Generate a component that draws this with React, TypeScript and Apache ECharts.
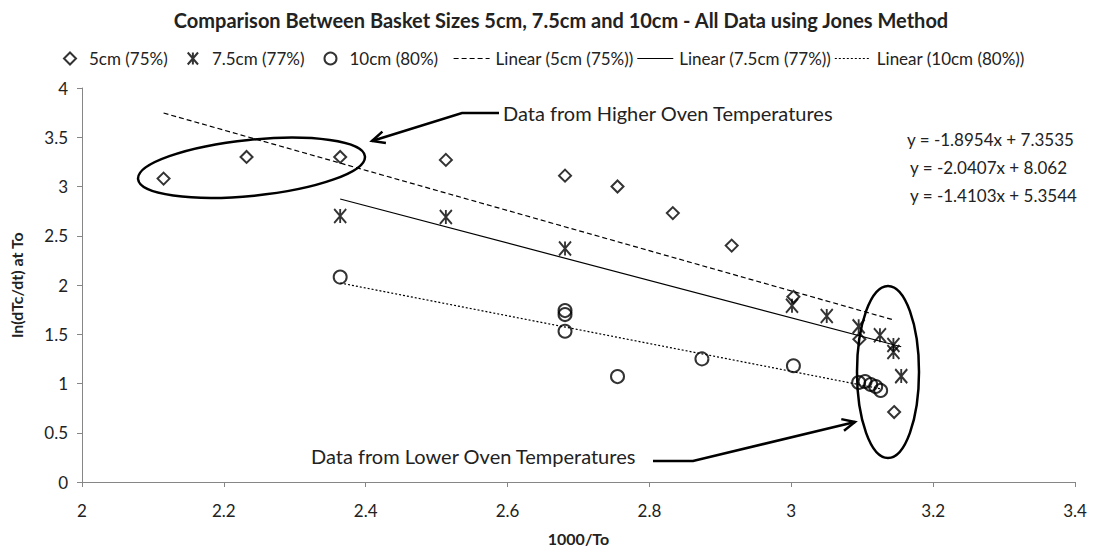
import React, { useEffect, useRef } from "react";
import * as echarts from "echarts";

// 1000/To and ln(dTc/dt) at To for each basket size
const X_5CM = [2.115, 2.232, 2.364, 2.513, 2.681, 2.755, 2.833, 2.916, 3.003, 3.096, 3.145];
const Y_5CM = [3.08, 3.30, 3.30, 3.27, 3.11, 3.00, 2.73, 2.40, 1.88, 1.45, 0.71];

const X_75CM = [2.364, 2.513, 2.681, 3.001, 3.05, 3.095, 3.125, 3.144, 3.144, 3.155];
const Y_75CM = [2.70, 2.69, 2.37, 1.79, 1.685, 1.58, 1.49, 1.39, 1.32, 1.075];

const X_10CM = [2.364, 2.681, 2.681, 2.681, 2.755, 2.874, 3.003, 3.095, 3.104, 3.112, 3.119, 3.126];
const Y_10CM = [2.08, 1.74, 1.70, 1.53, 1.07, 1.25, 1.18, 1.01, 1.02, 0.99, 0.97, 0.93];

const SERIES_NAMES = ["5cm (75%)", "7.5cm (77%)", "10cm (80%)"];
const TREND_NAMES = ["Linear (5cm (75%))", "Linear (7.5cm (77%))", "Linear (10cm (80%))"];

// least-squares trend lines (slope, intercept) for 5cm, 7.5cm, 10cm
const TREND_SLOPES = [-2.0407, -1.8954, -1.4103];
const TREND_INTERCEPTS = [8.062, 7.3535, 5.3544];
// order in which the equations are listed on the chart
const EQUATION_ORDER = [1, 0, 2];

const X_TICKS = { min: 2, max: 3.4, interval: 0.2 };
const Y_TICKS = { min: 0, max: 4, interval: 0.5 };

const FONT = "Lato";
const STAR = "path://M0 0L12 14M12 0L0 14M6 0L6 14";

function pairs(xs: number[], ys: number[]) {
  return xs.map((x, i) => [x, ys[i]]);
}

function trend(xs: number[], k: number) {
  const lo = Math.min(...xs);
  const hi = Math.max(...xs);
  const f = (x: number) => TREND_SLOPES[k] * x + TREND_INTERCEPTS[k];
  return [[lo, f(lo)], [hi, f(hi)]];
}

const hollow = { color: "transparent", borderColor: "#000", borderWidth: 2 };
const TREND_STYLES = [
  { color: "#000", width: 1.2, type: [5, 3] },
  { color: "#000", width: 1.2, type: "solid" },
  { color: "#000", width: 1.2, type: [2, 2] },
];

export default function App() {
  const ref = useRef<HTMLDivElement>(null);

  useEffect(() => {
    if (!ref.current) return;
    const chart = echarts.init(ref.current, undefined, { renderer: "svg" });
    const textColor = "#222";

    const textStyle = (size: number) => ({
      font: `${size}px ${FONT}`,
      fill: textColor,
      align: "left",
      verticalAlign: "middle",
      textAlign: "left",
      textVerticalAlign: "middle",
    });

    const eqTexts = EQUATION_ORDER.map((k, i) => ({
      type: "text",
      x: i === 0 ? 907 : 910,
      y: 139 + i * 28,
      style: { text: `y = ${TREND_SLOPES[k]}x + ${TREND_INTERCEPTS[k]}`, ...textStyle(17) },
    }));

    const annotationLine = { stroke: "#000", lineWidth: 2.5, fill: "none" };

    chart.setOption({
      animation: false,
      backgroundColor: "#fff",
      title: {
        text: "Comparison Between Basket Sizes 5cm, 7.5cm and 10cm - All Data using Jones Method",
        left: 556,
        textAlign: "center",
        top: 5,
        textStyle: { fontFamily: FONT, fontWeight: "bold", fontSize: 20, color: textColor },
      },
      legend: [
        {
          data: [
            { name: SERIES_NAMES[0], icon: "diamond", itemStyle: hollow },
            { name: SERIES_NAMES[1], icon: STAR, itemStyle: hollow },
            { name: SERIES_NAMES[2], icon: "circle", itemStyle: hollow },
          ],
          left: 58,
          top: 45,
          itemWidth: 12,
          itemHeight: 12,
          itemGap: 19,
          selectedMode: false,
          textStyle: { fontFamily: FONT, fontSize: 17, color: textColor, padding: [0, 0, 0, 8] },
        },
        {
          data: TREND_NAMES.map((name, i) => ({
            name,
            itemStyle: { opacity: 0 },
            lineStyle: TREND_STYLES[i],
          })),
          left: 448,
          top: 45,
          itemWidth: 36,
          itemHeight: 10,
          itemGap: 3,
          selectedMode: false,
          textStyle: { fontFamily: FONT, fontSize: 17, color: textColor, padding: [0, 0, 0, 1] },
        },
      ],
      grid: { left: 80, right: 21, top: 88, bottom: 74 },
      xAxis: {
        type: "value",
        ...X_TICKS,
        name: "1000/To",
        nameLocation: "middle",
        nameGap: 48,
        nameTextStyle: { fontFamily: FONT, fontWeight: "bold", fontSize: 16, color: textColor },
        axisLine: { show: true, onZero: false, lineStyle: { color: "#868686" } },
        axisTick: { show: true, length: 5, lineStyle: { color: "#868686" } },
        axisLabel: { fontFamily: FONT, fontSize: 17, color: textColor, margin: 20 },
        splitLine: { show: false },
      },
      yAxis: {
        type: "value",
        ...Y_TICKS,
        name: "ln(dTc/dt) at To",
        nameLocation: "middle",
        nameGap: 58,
        nameRotate: 90,
        nameTextStyle: { fontFamily: FONT, fontWeight: "bold", fontSize: 16, color: textColor },
        axisLine: { show: true, lineStyle: { color: "#868686" } },
        axisTick: { show: true, length: 5, lineStyle: { color: "#868686" } },
        axisLabel: { fontFamily: FONT, fontSize: 17, color: textColor, margin: 14 },
        splitLine: { show: false },
      },
      series: [
        {
          name: SERIES_NAMES[0],
          type: "scatter",
          symbol: "diamond",
          symbolSize: 12,
          itemStyle: hollow,
          data: pairs(X_5CM, Y_5CM),
          z: 3,
        },
        {
          name: SERIES_NAMES[1],
          type: "scatter",
          symbol: STAR,
          symbolSize: [12, 14],
          itemStyle: hollow,
          data: pairs(X_75CM, Y_75CM),
          z: 3,
        },
        {
          name: SERIES_NAMES[2],
          type: "scatter",
          symbol: "circle",
          symbolSize: 13,
          itemStyle: hollow,
          data: pairs(X_10CM, Y_10CM),
          z: 3,
        },
        ...TREND_NAMES.map((name, i) => ({
          name,
          type: "line",
          symbol: "none",
          itemStyle: { color: "#000" },
          lineStyle: TREND_STYLES[i],
          data: trend([X_5CM, X_75CM, X_10CM][i], i),
          z: 2,
        })),
      ],
      graphic: [
        ...eqTexts,
        // high-temperature group
        {
          type: "ellipse",
          x: 251.5,
          y: 167.8,
          rotation: 0.1,
          shape: { cx: 0, cy: 0, rx: 114, ry: 28 },
          style: annotationLine,
          z: 10,
        },
        {
          type: "polyline",
          shape: { points: [[499, 113], [462, 113], [372, 141]] },
          style: annotationLine,
          z: 10,
        },
        {
          type: "polyline",
          shape: { points: [[385.9, 142.9], [372, 141], [382.4, 131.6]] },
          style: annotationLine,
          z: 10,
        },
        {
          type: "text",
          x: 503,
          y: 113,
          style: { text: "Data from Higher Oven Temperatures", ...textStyle(20) },
        },
        // low-temperature group
        {
          type: "ellipse",
          x: 888,
          y: 372,
          shape: { cx: 0, cy: 0, rx: 31, ry: 86 },
          style: annotationLine,
          z: 10,
        },
        {
          type: "polyline",
          shape: { points: [[653, 461], [693, 461], [855, 422]] },
          style: annotationLine,
          z: 10,
        },
        {
          type: "polyline",
          shape: { points: [[841.3, 419.1], [855, 422], [844, 430.7]] },
          style: annotationLine,
          z: 10,
        },
        {
          type: "text",
          x: 311,
          y: 456,
          style: { text: "Data from Lower Oven Temperatures", ...textStyle(20) },
        },
      ],
    });

    return () => chart.dispose();
  }, []);

  return (
    <div
      ref={ref}
      style={{ position: "fixed", left: 0, top: 0, width: 1096, height: 556, background: "#fff" }}
    />
  );
}
